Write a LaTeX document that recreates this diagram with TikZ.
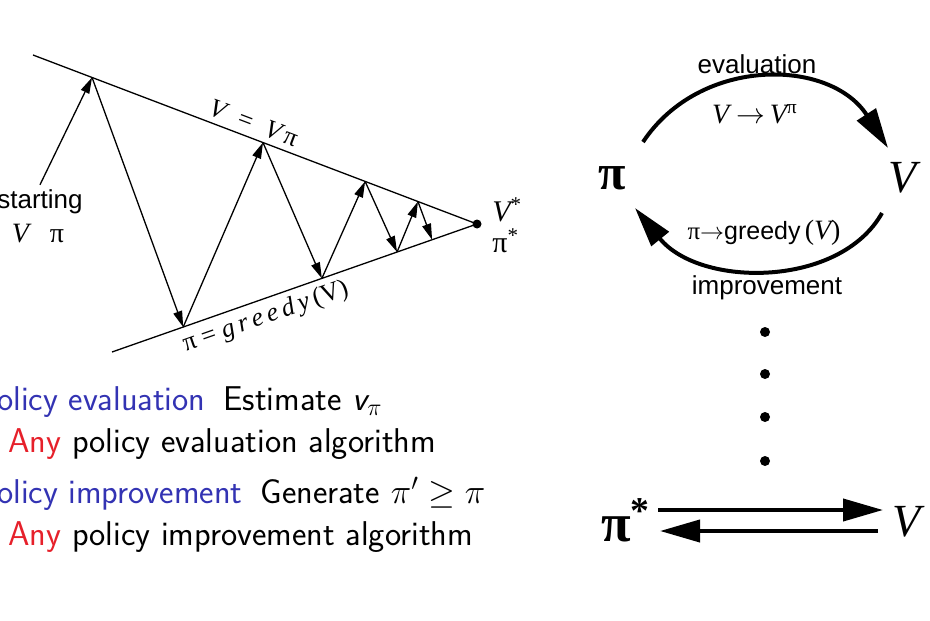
\documentclass[tikz,border=0pt]{standalone}
\usepackage{fontspec}
\newfontfamily\tms{Liberation Serif}
\newfontfamily\hel{Liberation Sans}
\definecolor{polblue}{HTML}{3333B3}
\definecolor{anyred}{HTML}{E6202A}
\usetikzlibrary{arrows.meta,positioning,calc}

\begin{document}
\begin{tikzpicture}[x=0.5pt, y=-0.5pt,
  edge/.style={line width=0.65pt},
  zz/.style={-{Triangle[length=8pt,width=4.5pt]}, line width=0.65pt},
  fat/.style={-{Triangle[length=20pt,width=11pt]}, line width=2pt},
  hlbl/.style={font=\hel\fontsize{13}{15}\selectfont, inner sep=2pt},
  tlbl/.style={font=\tms\fontsize{13}{15}\selectfont, inner sep=2pt},
  big/.style={font=\tms\bfseries\fontsize{25}{28}\selectfont, inner sep=0pt},
  bigv/.style={font=\tms\itshape\fontsize{23}{26}\selectfont, inner sep=0pt},
  item/.style={font=\sffamily\fontsize{17.2}{20}\selectfont, inner sep=0pt, anchor=base west},
  dot/.style={circle, fill, inner sep=0pt, minimum size=4.5pt}]
\useasboundingbox (0,0) rectangle (930,620);
\clip (0,0) rectangle (930,620);

% convergence wedge
\node[dot] (vstar) at (477,224) {};
\coordinate (ttop) at (33,55);
\coordinate (tbot) at (112,352);
\draw[edge] (ttop) -- (vstar.center) -- (tbot);
\path (ttop) -- (vstar) node[tlbl, pos=0.49, sloped, above=1pt]
  {\itshape V\ \ =\ \ V\,\upshape π};
\path (tbot) -- (vstar) node[tlbl, pos=0.41, sloped, below=1pt]
  {π = {\itshape g\,r\,e\,e\,d\,y}\,(V)};
\foreach \n/\f in {1/0.133,2/0.518,3/0.748,4/0.867}
  \coordinate (t\n) at ($(ttop)!\f!(vstar)$);
\foreach \n/\f in {1/0.195,2/0.575,3/0.781,4/0.877}
  \coordinate (b\n) at ($(tbot)!\f!(vstar)$);
\node[hlbl, anchor=base] (start) at (40,208) {starting};
\node[tlbl, font=\tms\fontsize{14}{16}\selectfont, below=1pt of start, xshift=-1pt] (vpi) {{\itshape V}\ \ \ π};
\draw[zz] (start.north) -- (t1);
\foreach \a/\b in {t1/b1,b1/t2,t2/b2,b2/t3,t3/b3,b3/t4,t4/b4}
  \draw[zz] (\a) -- (\b);
\node[tlbl, font=\tms\fontsize{15}{17}\selectfont, anchor=west] (vs) at (488,210) {{\itshape V}\textsuperscript{*}};
\node[tlbl, font=\tms\fontsize{15}{17}\selectfont, anchor=west] (ps) at (488,241) {π\textsuperscript{*}};

% bullet text
\node[item] (ev) at (-23,410) {\textcolor{polblue}{Policy evaluation}\hspace{9pt}Estimate {\slshape v}$_\pi$};
\node[item] (evany) at (8,452) {\textcolor{anyred}{Any} policy evaluation algorithm};
\node[item] (im) at (-23,503) {\textcolor{polblue}{Policy improvement}\hspace{9pt}Generate $\pi' \geq \pi$};
\node[item] (imany) at (8,545) {\textcolor{anyred}{Any} policy improvement algorithm};

% evaluation / improvement cycle
\node[big] (pi) at (612,178) {π};
\node[bigv] (v) at (903,178) {V};
\draw[fat] ($(pi)+(31,-36)$) .. controls +(57,-86) and +(-58,-90) .. ($(v)+(-15,-30)$);
\draw[fat] ($(v)+(-21,35)$) .. controls +(-42,75) and +(65,80) .. ($(pi)+(23,30)$);
\node[hlbl] (evl) at (757,64) {evaluation};
\node[tlbl, font=\tms\fontsize{14}{16}\selectfont] (vmap) at (755,114) {{\itshape V} $\rightarrow$\,{\itshape V}\textsuperscript{π}};
\node[tlbl, font=\tms\fontsize{12.5}{14}\selectfont] (gmap) at (764,233) {π$\rightarrow${\hel greedy}\,{\fontsize{14}{16}\selectfont({\itshape V})}};
\node[hlbl] (imp) at (767,288) {improvement};

\foreach \y [count=\i] in {332,374,417,461}
  \node[dot, minimum size=5pt] (d\i) at (765,\y) {};

\node[big, font=\tms\bfseries\fontsize{27}{30}\selectfont] (pistar) at (626,520) {π\textsuperscript{*}};
\node[bigv] (vb) at (907,522) {V};
\draw[fat] ($(pistar)+(32,-10)$) -- ($(vb)+(-24,-12)$);
\draw[fat] ($(vb)+(-29,9)$) -- ($(pistar)+(34,11)$);
\end{tikzpicture}
\end{document}
